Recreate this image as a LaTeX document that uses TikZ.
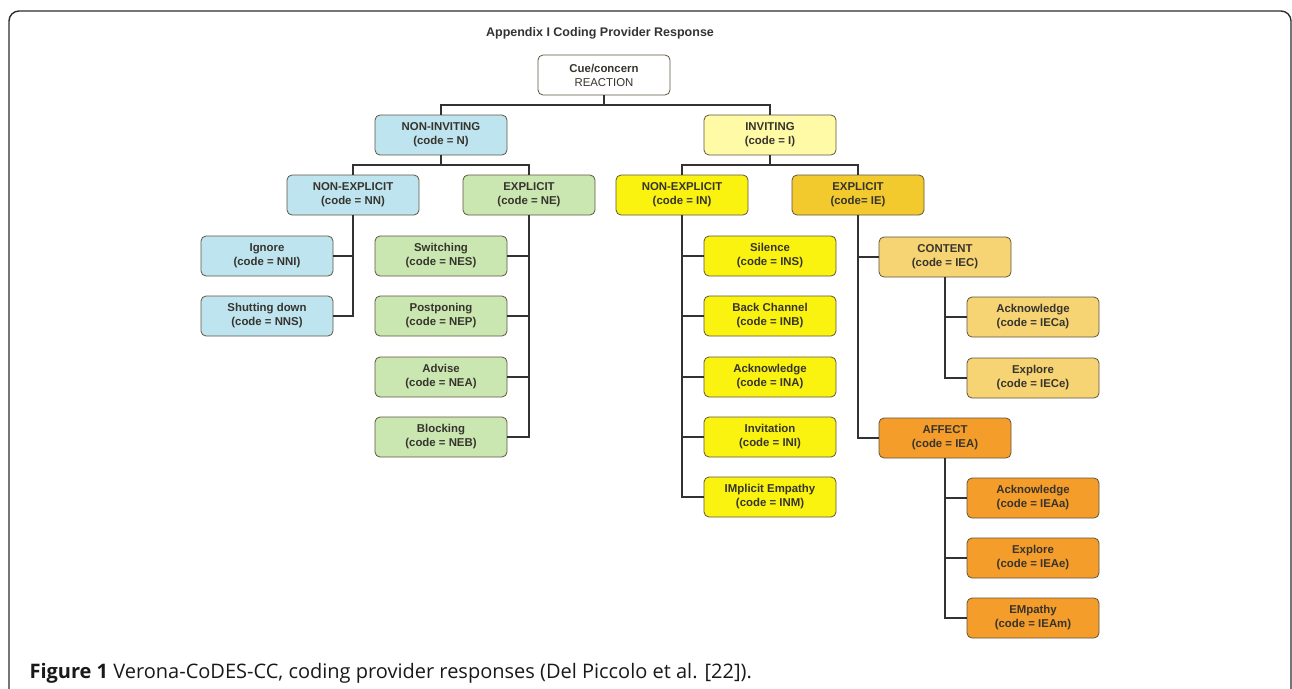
\documentclass[tikz,border=0pt]{standalone}
\usepackage{fontspec}
\setmainfont{Liberation Sans}
\newfontfamily\capfont{Open Sans}
\usetikzlibrary{positioning}
\definecolor{box edge}{RGB}{95,85,65}
\definecolor{box text}{RGB}{55,52,45}
\definecolor{link}{RGB}{50,50,50}
\definecolor{frame}{RGB}{45,45,45}
\definecolor{fill blue}{RGB}{190,228,240}
\definecolor{fill green}{RGB}{202,231,178}
\definecolor{fill pale}{RGB}{255,250,165}
\definecolor{fill yellow}{RGB}{250,243,15}
\definecolor{fill gold}{RGB}{242,202,45}
\definecolor{fill content}{RGB}{246,212,115}
\definecolor{fill affect}{RGB}{245,157,42}
\tikzset{
  codebox/.style={draw=box edge, line width=0.8pt, rounded corners=5pt,
    minimum width=132pt, minimum height=40pt, inner sep=1pt, align=center,
    text=box text, font=\bfseries\fontsize{11.4}{14}\selectfont},
  link/.style={draw=link, line width=2pt},
  headline/.style={font=\bfseries\fontsize{12.5}{15}\selectfont, text=black!80},
  captext/.style={anchor=base west, font=\capfont\fontsize{20}{23}\selectfont, text=black!90}
}
\begin{document}
\begin{tikzpicture}[x=1pt,y=-1pt]
    \useasboundingbox (0,0) rectangle (1292,688);
    \draw[frame, line width=1.4pt, rounded corners=10pt] (9,720) -- (9,11) -- (1291,11) -- (1291,720);
    \node[headline] (title) at (600,33) {Appendix I Coding Provider Response};
    % upper levels
    \node[codebox, fill=white] (root) at (604,75) {Cue/concern\\\mdseries REACTION};
    \node[codebox, fill=fill blue] (ninv) at (441,135) {NON-INVITING\\(code = N)};
    \node[codebox, fill=fill pale] (inv) at (770,135) {INVITING\\(code = I)};
    \node[codebox, fill=fill blue] (nnex) at (353,195) {NON-EXPLICIT\\(code = NN)};
    \node[codebox, fill=fill green] (nex) at (529,195) {EXPLICIT\\(code = NE)};
    \node[codebox, fill=fill yellow] (inex) at (682,195) {NON-EXPLICIT\\(code = IN)};
    \node[codebox, fill=fill gold] (iex) at (858,195) {EXPLICIT\\(code= IE)};
    \node[codebox, fill=fill content] (content) at (945,257) {CONTENT\\(code = IEC)};
    \node[codebox, fill=fill affect] (affect) at (945,438) {AFFECT\\(code = IEA)};
    \draw[link] (root.south) -- ++(0,10);
    \draw[link] (ninv.north) -- ++(0,-10) -| (inv.north);
    \draw[link] (ninv.south) -- ++(0,10);
    \draw[link] (nnex.north) -- ++(0,-10) -| (nex.north);
    \draw[link] (inv.south) -- ++(0,10);
    \draw[link] (inex.north) -- ++(0,-10) -| (iex.north);
    % non-explicit, non-inviting
    \foreach \nm/\txt/\cd/\y in {nni/Ignore/NNI/256, nns/Shutting down/NNS/316} {
        \node[codebox, fill=fill blue] (\nm) at (267,\y) {\txt\\(code = \cd)};
        \draw[link] (\nm.east) -- (\nm.east -| nnex.south);
    }
    \draw[link] (nnex.south) |- (nns.east);
    % explicit, non-inviting
    \foreach \nm/\txt/\cd/\y in {nes/Switching/NES/256, nep/Postponing/NEP/316,
        nea/Advise/NEA/377, neb/Blocking/NEB/437} {
        \node[codebox, fill=fill green] (\nm) at (441,\y) {\txt\\(code = \cd)};
        \draw[link] (\nm.east) -- (\nm.east -| nex.south);
    }
    \draw[link] (nex.south) |- (neb.east);
    % non-explicit, inviting
    \foreach \nm/\txt/\cd/\y in {ins/Silence/INS/256, inb/Back Channel/INB/316,
        ina/Acknowledge/INA/377, ini/Invitation/INI/437, inm/IMplicit Empathy/INM/497} {
        \node[codebox, fill=fill yellow] (\nm) at (770,\y) {\txt\\(code = \cd)};
        \draw[link] (\nm.west) -- (\nm.west -| inex.south);
    }
    \draw[link] (inex.south) |- (inm.west);
    % explicit, inviting
    \draw[link] (content.west) -- (content.west -| iex.south);
    \draw[link] (iex.south) |- (affect.west);
    \foreach \nm/\txt/\cd/\y in {ieca/Acknowledge/IECa/317, iece/Explore/IECe/378} {
        \node[codebox, fill=fill content] (\nm) at (1033,\y) {\txt\\(code = \cd)};
        \draw[link] (\nm.west) -- (\nm.west -| content.south);
    }
    \draw[link] (content.south) |- (iece.west);
    \foreach \nm/\txt/\cd/\y in {ieaa/Acknowledge/IEAa/498, ieae/Explore/IEAe/558,
        ieam/EMpathy/IEAm/618} {
        \node[codebox, fill=fill affect] (\nm) at (1033,\y) {\txt\\(code = \cd)};
        \draw[link] (\nm.west) -- (\nm.west -| affect.south);
    }
    \draw[link] (affect.south) |- (ieam.west);
    \node[captext] (caption) at (26,678) {\textbf{Figure 1} Verona-CoDES-CC, coding provider responses (Del Piccolo et al. [22]).};
\end{tikzpicture}
\end{document}
